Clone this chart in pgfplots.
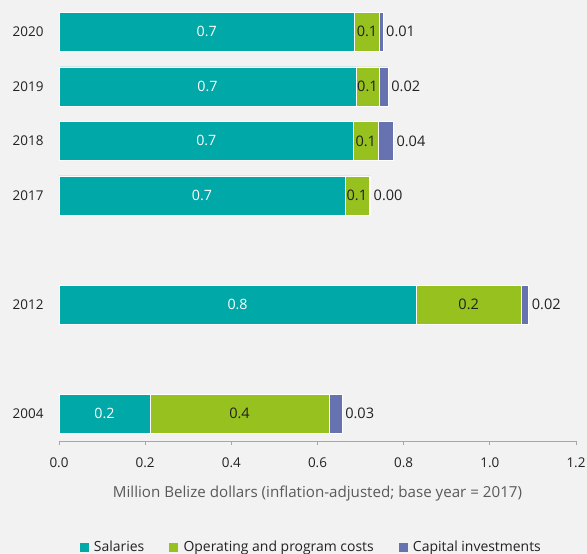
\documentclass[border=0pt]{standalone}
\usepackage{fontspec}
\setmainfont{Open Sans}
\usepackage{pgfplots}
\pgfplotsset{compat=1.18}
\usepackage{pgfplotstable}
\definecolor{bg}{HTML}{F2F2F2}
\definecolor{cSal}{HTML}{00A8A8}
\definecolor{cOp}{HTML}{97C11F}
\definecolor{cCap}{HTML}{6772B1}
\definecolor{txt}{HTML}{222222}
\definecolor{lbl}{HTML}{595959}
\definecolor{axl}{HTML}{A6A6A6}

\pgfplotstableread{
y v lab
0 0.211 0.2
2 0.829 0.8
4 0.664 0.7
5 0.684 0.7
6 0.689 0.7
7 0.686 0.7
}\sal
\pgfplotstableread{
y v lab
0 0.416 0.4
2 0.244 0.2
4 0.055 0.1
5 0.056 0.1
6 0.054 0.1
7 0.058 0.1
}\op
\pgfplotstableread{
y v lab
0 0.030 0.03
2 0.017 0.02
4 0.004 0.00
5 0.036 0.04
6 0.021 0.02
7 0.008 0.01
}\cap

\begin{document}
\begin{tikzpicture}
\fill[bg] (0,0) rectangle (587bp,554bp);
\begin{axis}[
  at={(59bp,113bp)}, anchor=south west,
  scale only axis, width=517bp, height=436.6bp,
  xmin=0, xmax=1.2, ymin=-0.5, ymax=7.5,
  xbar stacked, bar width=39bp,
  axis x line*=bottom, axis y line*=left,
  y axis line style={draw=none}, ytick style={draw=none},
  ytick={0,2,4,5,6,7}, yticklabels={2004,2012,2017,2018,2019,2020},
  yticklabel style={font=\fontsize{13.5}{16}\selectfont, text=txt, xshift=-8bp},
  xtick={0,0.2,0.4,0.6,0.8,1.0,1.2},
  xticklabel={\pgfmathprintnumber[fixed,fixed zerofill,precision=1]{\tick}},
  xticklabel style={font=\fontsize{13.5}{16}\selectfont, text=txt, yshift=-9bp},
  /pgf/number format/assume math mode=true,
  x axis line style={draw=axl, line width=0.8bp},
  xtick style={draw=axl, line width=0.8bp},
  tick align=outside, major tick length=4bp,
  xlabel={Million Belize dollars (inflation-adjusted; base year = 2017)},
  xlabel style={font=\fontsize{15.2}{17}\selectfont, text=lbl, yshift=-12bp},
  legend columns=3,
  legend style={draw=none, fill=none, at={(0.488,-0.243)}, anchor=center,
    font=\fontsize{14}{16}\selectfont, text=txt,
    /tikz/every even column/.append style={column sep=23bp}},
  legend image code/.code={\fill[#1,draw=none] (0bp,-4.5bp) rectangle (9bp,4.5bp); \path (12bp,0bp);},
  legend cell align=left,
  point meta=explicit symbolic,
  nodes near coords,
  visualization depends on={\thisrow{v} \as \vv},
]
\addplot[fill=cSal, draw=white, line width=0.4bp,
  every node near coord/.append style={anchor=center, text=white, font=\fontsize{14.3}{16}\selectfont}]
  table[x=v,y=y,meta=lab]{\sal};
\addplot[fill=cOp, draw=white, line width=0.4bp,
  every node near coord/.append style={anchor=center, text=txt, font=\fontsize{14.6}{16}\selectfont}]
  table[x=v,y=y,meta=lab]{\op};
\addplot[fill=cCap, draw=white, line width=0.4bp,
  every node near coord/.append style={anchor=west, inner sep=3bp, xshift=\vv*215.417bp, text=txt, font=\fontsize{14.6}{16}\selectfont}]
  table[x=v,y=y,meta=lab]{\cap};
\legend{Salaries, Operating and program costs, Capital investments}
\end{axis}
\pgfresetboundingbox
\path[use as bounding box] (0,0) rectangle (587bp,554bp);
\end{tikzpicture}
\end{document}
